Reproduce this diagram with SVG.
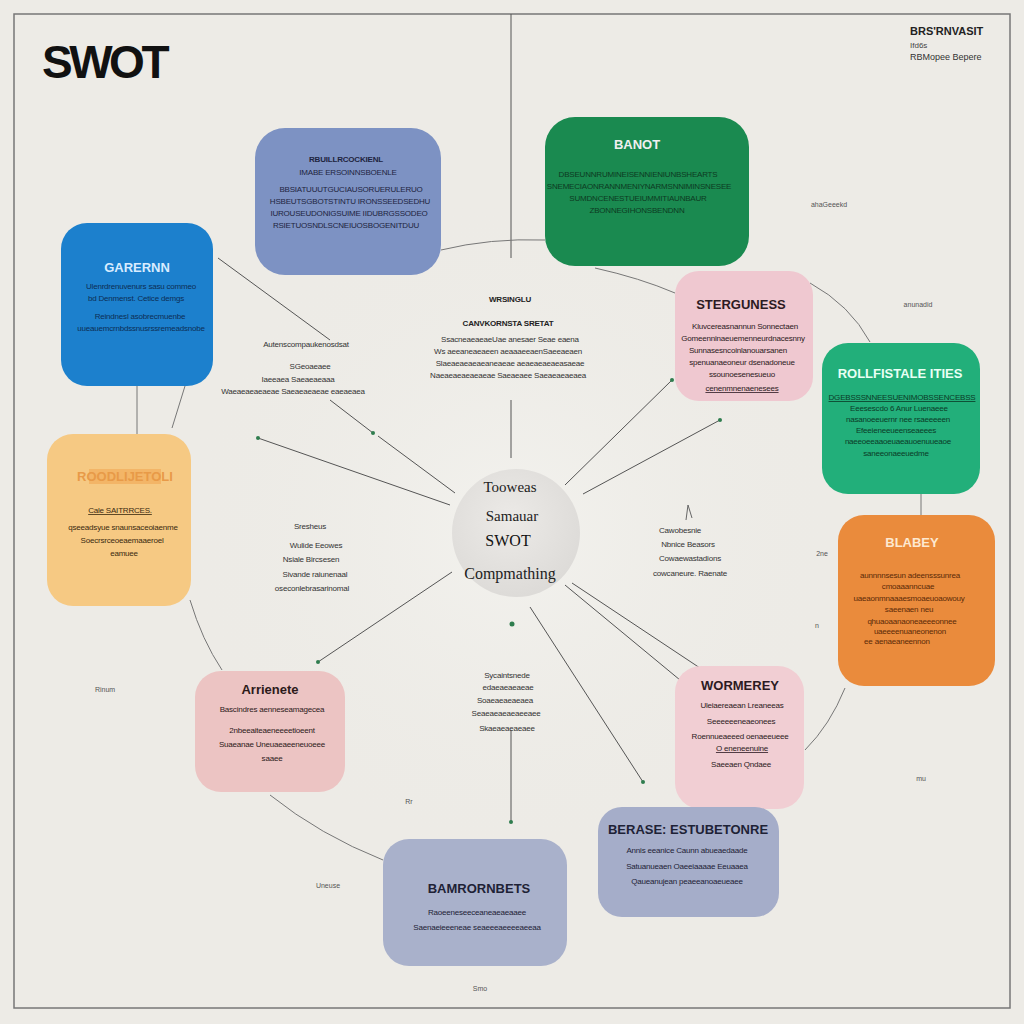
<svg xmlns="http://www.w3.org/2000/svg" width="1024" height="1024" viewBox="0 0 1024 1024">
<defs>
<radialGradient id="glow" cx="0.5" cy="0.5" r="0.5">
<stop offset="0" stop-color="#f3f2ee"/>
<stop offset="1" stop-color="#ecebe6" stop-opacity="0"/>
</radialGradient>
<radialGradient id="blob" cx="0.45" cy="0.4" r="0.6">
<stop offset="0" stop-color="#eceae7"/>
<stop offset="1" stop-color="#dddbd8"/>
</radialGradient>
<marker id="dot" viewBox="0 0 10 10" refX="5" refY="5" markerWidth="5" markerHeight="5">
<circle cx="5" cy="5" r="4" fill="#2f7d4e"/>
</marker>
</defs>
<style>
.sans{font-family:"Liberation Sans","DejaVu Sans",sans-serif}
.serif{font-family:"Liberation Serif","DejaVu Serif",serif}
.h{font-weight:bold;font-size:13px;text-anchor:middle}
.b{font-size:8px;text-anchor:middle;letter-spacing:-0.2px}
.s{font-size:7px;fill:#555;text-anchor:middle}
.conn{stroke:#555;stroke-width:1;fill:none}
.arc{stroke:#777;stroke-width:1;fill:none}
</style>
<rect width="1024" height="1024" fill="#edebe6"/>
<circle cx="512" cy="530" r="330" fill="url(#glow)"/>
<rect x="14" y="14" width="996" height="994" fill="none" stroke="#777" stroke-width="1.5"/>

<g id="title" class="sans">
<text x="42" y="78" font-size="46" font-weight="bold" letter-spacing="-3.5" fill="#111">SWOT</text>
<text x="910" y="35" font-size="11" font-weight="bold" fill="#222">BRS'RNVASIT</text>
<text x="910" y="48" font-size="8" fill="#444">Ifd6s</text>
<text x="910" y="60" font-size="9" fill="#333">RBMopee Bepere</text>
</g>

<g id="connectors">
<line class="conn" x1="511" y1="14" x2="511" y2="258"/>
<line class="conn" x1="511" y1="400" x2="511" y2="458"/>
<path class="arc" d="M441,250 Q490,238 545,240"/>
<path class="arc" d="M595,268 Q640,278 675,293"/>
<path class="arc" d="M810,283 Q850,305 870,342"/>
<line class="arc" x1="921" y1="494" x2="921" y2="515"/>
<path class="arc" d="M845,688 Q830,725 805,750"/>
<path class="arc" d="M383,860 Q320,835 270,795"/>
<path class="arc" d="M190,600 Q202,640 222,670"/>
<line class="arc" x1="137" y1="386" x2="137" y2="434"/>
<line class="arc" x1="185" y1="386" x2="172" y2="428"/>
<line class="conn" x1="218" y1="258" x2="330" y2="340"/>
<line class="conn" x1="330" y1="400" x2="373" y2="433" marker-end="url(#dot)"/>
<line class="conn" x1="450" y1="505" x2="258" y2="438" marker-end="url(#dot)"/>
<line class="conn" x1="378" y1="436" x2="455" y2="493"/>
<line class="conn" x1="565" y1="485" x2="672" y2="380" marker-end="url(#dot)"/>
<line class="conn" x1="583" y1="494" x2="720" y2="420" marker-end="url(#dot)"/>
<line class="conn" x1="452" y1="572" x2="318" y2="662" marker-end="url(#dot)"/>
<line class="conn" x1="511" y1="730" x2="511" y2="822" marker-end="url(#dot)"/>
<line class="conn" x1="530" y1="607" x2="643" y2="782" marker-end="url(#dot)"/>
<line class="conn" x1="565" y1="585" x2="680" y2="680"/>
<line class="conn" x1="572" y1="583" x2="700" y2="668"/>
<circle cx="512" cy="624" r="2.5" fill="#2f7d4e"/>
<path d="M686,520 L688,505 L692,518" stroke="#666" fill="none"/>
</g>

<g id="center" class="serif">
<circle cx="516" cy="533" r="64" fill="url(#blob)"/>
<text x="510" y="492" font-size="15" text-anchor="middle" fill="#222">Tooweas</text>
<text x="512" y="521" font-size="15" text-anchor="middle" fill="#222">Samauar</text>
<text x="508" y="546" font-size="16" text-anchor="middle" fill="#111">SWOT</text>
<text x="510" y="579" font-size="16" text-anchor="middle" fill="#222">Compmathing</text>
</g>

<g id="node-slate-top" class="sans">
<rect x="255" y="128" width="186" height="147" rx="30" fill="#7d92c3"/>
<text class="b" x="346" y="162" font-weight="bold" fill="#1e2440" font-size="9">RBUILLRCOCKIENL</text>
<text class="b" x="348" y="175" fill="#1e2440">IMABE ERSOINNSBOENLE</text>
<text class="b" x="351" y="192" fill="#1e2440">BBSIATUUUTGUCIAUSORUERULERUO</text>
<text class="b" x="350" y="204" fill="#1e2440">HSBEUTSGBOTSTINTU IRONSSEEDSEDHU</text>
<text class="b" x="349" y="216" fill="#1e2440">IUROUSEUDONIGSUIME IIDUBRGSSODEO</text>
<text class="b" x="346" y="228" fill="#1e2440">RSIETUOSNDLSCNEIUOSBOGENITDUU</text>
</g>

<g id="node-green-top" class="sans">
<rect x="545" y="117" width="204" height="149" rx="30" fill="#1a8a50"/>
<text class="h" x="637" y="149" font-size="16" fill="#f0f0f0" font-weight="normal">BANOT</text>
<text class="b" x="638" y="177" fill="#0d3a22" font-size="7">DBSEUNNRUMINEISENNIENIUNBSHEARTS</text>
<text class="b" x="639" y="189" fill="#0d3a22" font-size="7">SNEMECIAONRANNMENIYNARMSNNIMINSNESEE</text>
<text class="b" x="638" y="201" fill="#0d3a22" font-size="7">SUMDNCENESTUEIUMMITIAUNBAUR</text>
<text class="b" x="637" y="213" fill="#0d3a22" font-size="7">ZBONNEGIHONSBENDNN</text>
</g>

<g id="node-blue" class="sans">
<rect x="61" y="223" width="152" height="163" rx="26" fill="#1c80cd"/>
<text class="h" x="137" y="272" font-size="14" fill="#d8ecff" font-weight="normal">GARERNN</text>
<text class="b" x="141" y="289" fill="#0c2e55">Ulenrdrenuvenurs sasu commeo</text>
<text class="b" x="136" y="301" fill="#0c2e55">bd  Denmenst. Cetice demgs</text>
<text class="b" x="140" y="319" fill="#0c2e55">Reindnesl asobrecmuenbe</text>
<text class="b" x="141" y="331" fill="#0c2e55">uueauemcrnbdssnusrssremeadsnobe</text>
</g>

<g id="node-yellow" class="sans">
<rect x="47" y="434" width="144" height="172" rx="26" fill="#f6c983"/>
<rect x="89" y="469" width="72" height="15" fill="#f3b567"/>
<text class="h" x="125" y="481" font-size="11" fill="#e89a48" font-weight="normal">ROODLIJETOLI</text>
<text class="b" x="120" y="513" font-size="9" fill="#3a2a10" text-decoration="underline">Cale SAITRRCES.</text>
<text class="b" x="123" y="530" fill="#3a2a10">qseeadsyue snaunsaceoiaenme</text>
<text class="b" x="122" y="543" fill="#3a2a10">Soecrsrceoeaemaaeroel</text>
<text class="b" x="124" y="556" fill="#3a2a10">eamuee</text>
</g>

<g id="node-pink-strengths" class="sans">
<rect x="675" y="271" width="138" height="130" rx="24" fill="#efc8d0"/>
<text class="h" x="741" y="309" font-size="12" fill="#2c1a22">STERGUNESS</text>
<text class="b" x="745" y="329" fill="#2c1a22">Kluvcereasnannun Sonnectaen</text>
<text class="b" x="743" y="341" fill="#2c1a22">Gomeenninaeuemenneurdnacesnny</text>
<text class="b" x="738" y="353" fill="#2c1a22">Sunnasesncoinlanouarsanen</text>
<text class="b" x="742" y="365" fill="#2c1a22">spenuanaeoneur dsenadoneue</text>
<text class="b" x="742" y="377" fill="#2c1a22">ssounoesenesueuo</text>
<text class="b" x="742" y="391" fill="#2c1a22" text-decoration="underline">cenenmnenaenesees</text>
</g>

<g id="node-teal" class="sans">
<rect x="822" y="343" width="158" height="151" rx="26" fill="#22af7a"/>
<text class="h" x="900" y="378" font-size="14" fill="#e8fff4" font-weight="normal">ROLLFISTALE ITIES</text>
<text class="b" x="902" y="400" fill="#0b3b27" text-decoration="underline">DGEBSSSNNEESUENIMOBSSENCEBSS</text>
<text class="b" x="899" y="411" fill="#0b3b27">Eeesescdo 6 Anur  Luenaeee</text>
<text class="b" x="898" y="422" fill="#0b3b27">nasanoeeuernr nee  rsaeeeeen</text>
<text class="b" x="896" y="433" fill="#0b3b27">Efeeieneeueenseaeees</text>
<text class="b" x="898" y="444" fill="#0b3b27">naeeoeeaaoeuaeauoenuueaoe</text>
<text class="b" x="896" y="456" fill="#0b3b27">saneeonaeeuedme</text>
</g>

<g id="node-orange" class="sans">
<rect x="838" y="515" width="157" height="171" rx="26" fill="#ea8b3c"/>
<text class="h" x="912" y="547" font-size="14" fill="#fde8d0" font-weight="normal">BLABEY</text>
<text class="b" x="910" y="578" fill="#5a2a08">aunnnnsesun adeensssunrea</text>
<text class="b" x="908" y="589" fill="#5a2a08">cmoaaanncuae</text>
<text class="b" x="909" y="601" fill="#5a2a08">uaeaonmnaaaesmoaeuoaowouy</text>
<text class="b" x="909" y="612" fill="#5a2a08">saeenaen neu</text>
<text class="b" x="912" y="624" fill="#5a2a08">qhuaoaanaoneaeeeonnee</text>
<text class="b" x="910" y="634" fill="#5a2a08">uaeeeenuaneonenon</text>
<text class="b" x="897" y="644" fill="#5a2a08">ee aenaeaneennon</text>
</g>

<g id="node-pink-left" class="sans">
<rect x="195" y="671" width="150" height="121" rx="26" fill="#ecc4c3"/>
<text class="h" x="270" y="694" font-size="11" fill="#2c1a1a">Arrienete</text>
<text class="b" x="272" y="712" fill="#2c1a1a">Bascindres aenneseamagecea</text>
<text class="b" x="272" y="733" fill="#2c1a1a">2nbeeaiteaeneeeetioeent</text>
<text class="b" x="272" y="747" fill="#2c1a1a">Suaeanae Uneuaeaeeneuoeee</text>
<text class="b" x="272" y="761" fill="#2c1a1a">saaee</text>
</g>

<g id="node-pink-weak" class="sans">
<rect x="675" y="666" width="129" height="143" rx="26" fill="#f1ced3"/>
<text class="h" x="740" y="690" font-size="11" fill="#2c1a22">WORMEREY</text>
<text class="b" x="742" y="708" fill="#2c1a22">Uleiaereaean Lreaneeas</text>
<text class="b" x="741" y="724" fill="#2c1a22">Seeeeeeneaeonees</text>
<text class="b" x="740" y="739" fill="#2c1a22">Roennueaeeed oenaeeueee</text>
<text class="b" x="742" y="751" fill="#2c1a22" text-decoration="underline">O eneneenuine</text>
<text class="b" x="741" y="767" fill="#2c1a22">Saeeaen Qndaee</text>
</g>

<g id="node-slate-right" class="sans">
<rect x="598" y="807" width="181" height="110" rx="24" fill="#a5adc9"/>
<text class="h" x="688" y="834" font-size="10" fill="#1e2236">BERASE: ESTUBETONRE</text>
<text class="b" x="687" y="853" fill="#1e2236">Annis eeanice Caunn abueaedaade</text>
<text class="b" x="687" y="869" fill="#1e2236">Satuanueaen Oaeeiaaaae Eeuaaea</text>
<text class="b" x="687" y="884" fill="#1e2236">Qaueanujean peaeeanoaeueaee</text>
</g>

<g id="node-slate-bottom" class="sans">
<rect x="383" y="839" width="184" height="127" rx="26" fill="#a9b1cb"/>
<text class="h" x="479" y="893" font-size="10" fill="#1e2236">BAMRORNBETS</text>
<text class="b" x="477" y="915" fill="#1e2236">Raoeeneseeceaneaeaeaaee</text>
<text class="b" x="477" y="930" fill="#1e2236">Saenaeieeeneae seaeeeaeeeeaeeaa</text>
</g>

<g id="labels" class="sans" fill="#333">
<text class="b" x="510" y="302" font-size="10" font-weight="bold" fill="#222">WRSINGLU</text>
<text class="b" x="508" y="326" font-size="9" font-weight="bold" fill="#222">CANVKORNSTA SRETAT</text>
<text class="b" x="510" y="342">SsacneaeaeaeUae anesaer  Seae eaena</text>
<text class="b" x="508" y="354">Ws aeeaneaeaeen aeaaaeeaenSaeeaeaen</text>
<text class="b" x="510" y="366">Slaeaeaeaeaeaneaeae aeaeaeaeaeasaeae</text>
<text class="b" x="508" y="378">Naeaeaeaeaeaeae Saeaeaee Saeaeaeaeaea</text>
<text class="b" x="306" y="347" font-size="9">Autenscompaukenosdsat</text>
<text class="b" x="310" y="369">SGeoaeaee</text>
<text class="b" x="298" y="382">Iaeeaea Saeaeaeaaa</text>
<text class="b" x="293" y="394">Waeaeaeaeaeae Saeaeaeaeae eaeaeaea</text>
<text class="b" x="310" y="529">Sresheus</text>
<text class="b" x="316" y="548">Wulide Eeowes</text>
<text class="b" x="311" y="562">Nsiale Bircsesen</text>
<text class="b" x="315" y="577">Sivande raiunenaal</text>
<text class="b" x="312" y="591">oseconlebrasarinomal</text>
<text class="b" x="680" y="533">Cawobesnie</text>
<text class="b" x="688" y="547">Nbnice Beasors</text>
<text class="b" x="690" y="561">Cowaewastadions</text>
<text class="b" x="690" y="576">cowcaneure. Raenate</text>
<text class="b" x="507" y="678">Sycaintsnede</text>
<text class="b" x="508" y="690">edaeaeaeaeae</text>
<text class="b" x="505" y="703">Soaeaeaeaeaea</text>
<text class="b" x="506" y="716">Seaeaeaeaeaeeaee</text>
<text class="b" x="507" y="731">Skaeaeaeaeaee</text>
<text class="s" x="829" y="207">ahaGeeekd</text>
<text class="s" x="918" y="307">anunadid</text>
<text class="s" x="822" y="556">2ne</text>
<text class="s" x="817" y="628">n</text>
<text class="s" x="105" y="692">Rinum</text>
<text class="s" x="409" y="804">Rr</text>
<text class="s" x="328" y="888">Uneuse</text>
<text class="s" x="921" y="781">mu</text>
<text class="s" x="480" y="991">Smo</text>
</g>
</svg>
